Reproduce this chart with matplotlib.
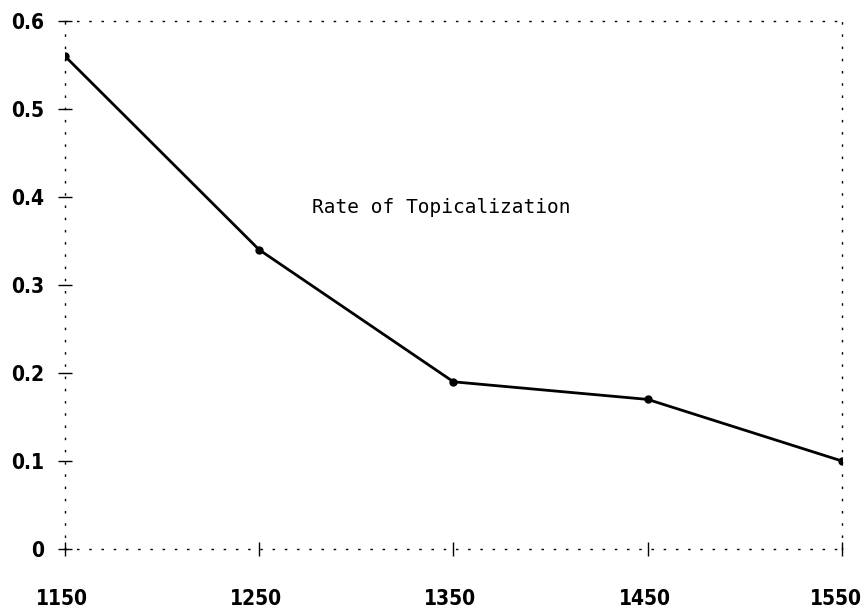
"""
Rate of Topicalization by period
"""
import matplotlib
matplotlib.use('Agg')
import matplotlib.pyplot as plt
import matplotlib.transforms as mtransforms

years = [1150, 1250, 1350, 1450, 1550]
rates = [0.56, 0.34, 0.19, 0.17, 0.10]
y_ticks = [0, 0.1, 0.2, 0.3, 0.4, 0.5, 0.6]
y_labels = ['0', '0.1', '0.2', '0.3', '0.4', '0.5', '0.6']
label_text = 'Rate of Topicalization'

fig = plt.figure(figsize=(8.64, 6.08), dpi=100)
ax = fig.add_axes([0.0752, 0.097, 0.8993, 0.8685])

ax.plot(years, rates, color='black', linewidth=2, marker='o', markersize=5)
ax.text(1277, 0.3875, label_text, family='DejaVu Sans Mono', fontsize=14,
        ha='left', va='center')

ax.set_xlim(1150, 1550)
ax.set_ylim(0, 0.6)
ax.set_xticks(years)
ax.set_xticklabels([str(y) for y in years])
ax.set_yticks(y_ticks)
ax.set_yticklabels(y_labels)

for lab in ax.get_xticklabels() + ax.get_yticklabels():
    lab.set_family('DejaVu Sans')
    lab.set_stretch('condensed')
    lab.set_fontweight('bold')
    lab.set_fontsize(15)

ax.tick_params(axis='x', direction='inout', length=10, width=1, pad=24)
ax.tick_params(axis='y', direction='inout', length=10, width=1, pad=10)

# labels in the original sit a few pixels left of their ticks
xlabs = ax.get_xticklabels()
for i, lab in enumerate(xlabs):
    dx = -6 if i == len(xlabs) - 1 else -3
    offset = mtransforms.ScaledTranslation(dx / 100, 0, fig.dpi_scale_trans)
    lab.set_transform(lab.get_transform() + offset)

for sp in ax.spines.values():
    sp.set_linestyle((0, (0.8, 8)))
    sp.set_linewidth(1)
    sp.set_color('black')

plt.savefig('out.png', dpi=100, facecolor='white')
plt.close()
